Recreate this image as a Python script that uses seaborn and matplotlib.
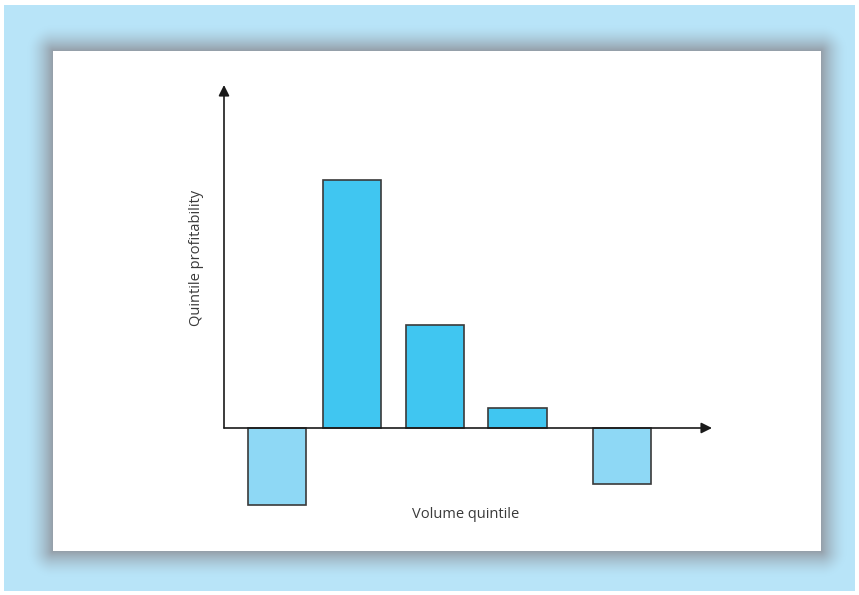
import numpy as np
import pandas as pd
import matplotlib.pyplot as plt
import seaborn as sns

# values (arbitrary profitability units)
quintiles = ["Q1", "Q2", "Q3", "Q4", "Q5"]
profitability = [-3.1, 10.0, 4.15, 0.8, -2.26]

# layout: bar centres along the horizontal axis (figure pixel units)
bar_pos = [277, 352, 435, 517.5, 622]
bar_colors = {"Q1": "#8ED8F5", "Q2": "#40C6F1", "Q3": "#40C6F1",
              "Q4": "#40C6F1", "Q5": "#8ED8F5"}

df = pd.DataFrame({"Quintile": quintiles, "Profit": profitability, "Pos": bar_pos})

sns.set_style("white")
plt.rcParams["font.family"] = ["Open Sans", "DejaVu Sans"]

W, H = 859, 595
fig = plt.figure(figsize=(W / 100, H / 100), dpi=100)

# background: light blue frame with a soft grey shadow round a white panel
yy, xx = np.mgrid[0:H, 0:W] + 0.5
blue = np.array([184, 228, 248]) / 255
grey = np.array([148, 158, 168]) / 255
px0, px1, py0, py1 = 53, 821, 51, 551
dx = np.maximum(np.maximum(px0 - xx, xx - px1), 0)
dy = np.maximum(np.maximum(py0 - yy, yy - py1), 0)
d = np.sqrt(dx ** 2 + dy ** 2)
a = np.clip(1 - d / 26, 0, 1) ** 1.6
img = blue * (1 - a[..., None]) + grey * a[..., None]
inside = (dx == 0) & (dy == 0)
img[inside] = 1.0
outer = (xx < 4) | (xx > 855) | (yy < 5) | (yy > 591)
img[outer] = 1.0
bg = fig.add_axes([0, 0, 1, 1])
bg.imshow(img, extent=(0, W, H, 0), aspect="auto", interpolation="nearest")
bg.axis("off")

# main chart axes, positioned in pixel terms
x_left, x_right, y_top, y_bot = 224, 712, 85, 530
ax = fig.add_axes([x_left / W, 1 - y_bot / H, (x_right - x_left) / W, (y_bot - y_top) / H])
ax.set_facecolor("none")

sns.barplot(data=df, x="Pos", y="Profit", hue="Quintile", palette=bar_colors,
            native_scale=True, width=58 / 74.5, legend=False, saturation=1,
            edgecolor="#3a3a3a", linewidth=1.2, ax=ax, zorder=2)

px_per_unit = 24.8
ax.set_xlim(x_left, x_right)
ax.set_ylim(-(y_bot - 428) / px_per_unit, (428 - y_top) / px_per_unit)
sns.despine(ax=ax, left=True, bottom=True)
ax.set_xticks([])
ax.set_yticks([])
ax.set_xlabel("")
ax.set_ylabel("")

arrow = dict(arrowstyle="-|>", color="#1a1a1a", lw=1.2, mutation_scale=16,
             shrinkA=0, shrinkB=0)
ymax = ax.get_ylim()[1]
ax.annotate("", xy=(x_right, 0), xytext=(x_left, 0), arrowprops=arrow,
            annotation_clip=False, zorder=3)
ax.annotate("", xy=(x_left, ymax), xytext=(x_left, 0), arrowprops=arrow,
            annotation_clip=False, zorder=3)

fig.text(466 / W, 1 - 514 / H, "Volume quintile", ha="center", va="center",
         fontsize=10.5, color="#3a3a3a")
fig.text(197 / W, 1 - 258 / H, "Quintile profitability", ha="center", va="center",
         rotation=90, fontsize=10.5, color="#3a3a3a")

plt.savefig("out.png", dpi=100)
